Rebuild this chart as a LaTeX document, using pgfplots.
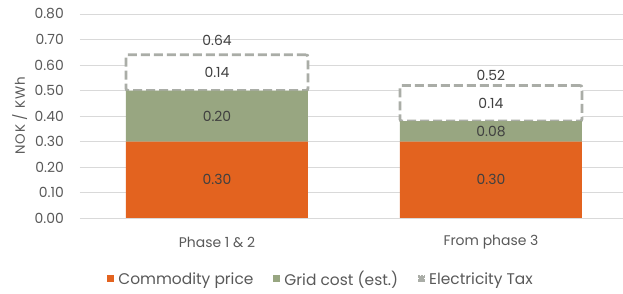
\documentclass[border=0pt]{standalone}
\usepackage{pgfplots}
\pgfplotsset{compat=1.18}
\usepackage{fontspec}
\setmainfont{Poppins}
\definecolor{orng}{HTML}{E3631F}
\definecolor{grn}{HTML}{98A681}
\definecolor{taxg}{HTML}{AAADA7}
\definecolor{gridc}{HTML}{D9D9D9}
\definecolor{tick}{HTML}{595959}
\definecolor{lab}{HTML}{404040}
\begin{document}
\begin{tikzpicture}
\useasboundingbox (0,0) rectangle (623bp,294bp);
\begin{axis}[
  at={(80bp,76bp)}, anchor=south west,
  scale only axis, width=543bp, height=204bp,
  ybar stacked, bar width=182bp,
  xmin=-0.5, xmax=1.482, ymin=0, ymax=0.8,
  xtick={0,1}, xticklabels={Phase 1 \& 2, From phase 3},
  ytick={0,0.1,0.2,0.3,0.4,0.5,0.6,0.7,0.8},
  /pgf/number format/assume math mode=true,
  yticklabel style={/pgf/number format/fixed, /pgf/number format/fixed zerofill, /pgf/number format/precision=2,
    anchor=east, inner sep=0pt, xshift=-16bp},
  ymajorgrids, major grid style={draw=gridc, line width=0.9bp},
  axis line style={draw=none}, major tick length=0,
  tick label style={font=\fontsize{14}{16}\selectfont, text=tick},
  xticklabel style={anchor=center, inner sep=0pt, yshift=-24bp},
  ylabel={NOK / KWh},
  ylabel style={at={(axis description cs:-0.111,0.5)}, anchor=center, font=\fontsize{13.5}{15}\selectfont\addfontfeatures{LetterSpace=8}, text=tick},
  legend style={at={(axis description cs:0.444,-0.299)}, anchor=center, draw=none, fill=none,
    legend columns=3, font=\fontsize{15.5}{17}\selectfont, text=tick,
    /tikz/every even column/.append style={column sep=18bp},
    /tikz/every odd column/.append style={column sep=2bp},
    legend cell align=left, inner sep=0pt},
]
\addplot[fill=orng, draw=none,
  legend image code/.code={\fill[orng] (0bp,-3.5bp) rectangle (7bp,3.5bp);}]
  coordinates {(0,0.30) (1,0.30)};
\addlegendentry{Commodity price}
\addplot[fill=grn, draw=none,
  legend image code/.code={\fill[grn] (0bp,-3.5bp) rectangle (7bp,3.5bp);}]
  coordinates {(0,0.20) (1,0.08)};
\addlegendentry{Grid cost (est.)}
\addplot[fill=white, draw=taxg, line width=2.8bp, dash pattern=on 9bp off 4bp, rounded corners=2bp,
  legend image code/.code={\draw[taxg, line width=1.6bp, dash pattern=on 2.5bp off 1bp, rounded corners=0pt] (0.8bp,-2.7bp) rectangle (6.2bp,2.7bp);}]
  coordinates {(0,0.14) (1,0.14)};
\addlegendentry{Electricity Tax}
\end{axis}
\begin{axis}[
  at={(80bp,76bp)}, anchor=south west,
  scale only axis, width=543bp, height=204bp,
  xmin=-0.5, xmax=1.482, ymin=0, ymax=0.8,
  hide axis,
]
\addplot[draw=none, mark=none, nodes near coords, point meta=explicit symbolic,
  every node near coord/.style={anchor=center, text=lab, font=\fontsize{14}{16}\selectfont}]
  table[meta=lab] {
x y lab
0 0.15 0.30
0 0.40 0.20
0 0.57 0.14
0 0.698 0.64
1 0.15 0.30
1 0.34 0.08
1 0.45 0.14
1 0.561 0.52
};
\end{axis}
\end{tikzpicture}
\end{document}
